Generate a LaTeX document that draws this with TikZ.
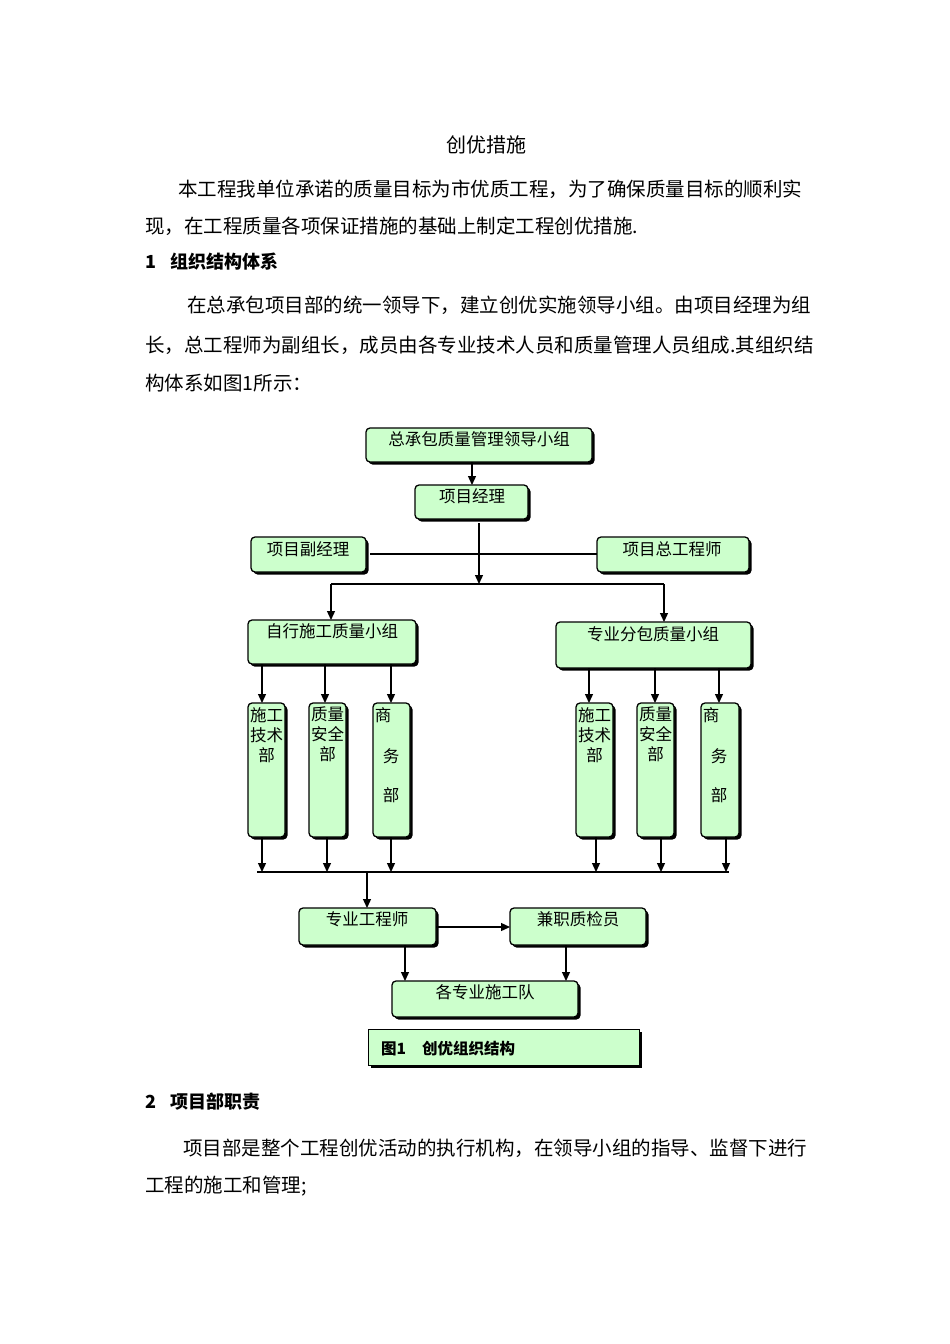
\documentclass[tikz,border=0pt]{standalone}
\usepackage{fontspec}
\setmainfont{Noto Sans CJK SC}
\usetikzlibrary{shadows,arrows.meta}
\definecolor{bx}{HTML}{CCFFCC}
\tikzset{
  box/.style={draw=black,line width=1.3pt,fill=bx,rounded corners=4pt,
    drop shadow={shadow xshift=2.5pt,shadow yshift=-2.5pt,fill=black,opacity=1}},
  capbox/.style={draw=black,line width=1pt,fill=bx,
    drop shadow={shadow xshift=2.5pt,shadow yshift=-2.5pt,fill=black,opacity=1}},
  bt/.style={font=\fontsize{16.5}{18}\selectfont,anchor=north,inner sep=0pt},
  col/.style={bt,align=center,font=\fontsize{16.5}{20}\selectfont},
  body/.style={font=\fontsize{19.5}{22}\selectfont,anchor=west,inner sep=0pt},
  ar/.style={line width=1.3pt,-{Triangle[length=9pt,width=8pt]}},
  ln/.style={line width=1.3pt}
}
\begin{document}
\begin{tikzpicture}[x=1pt,y=-1pt]
\useasboundingbox (0,0) rectangle (950,1344);
% text
\node[font=\fontsize{20}{22}\selectfont,inner sep=0pt] (title) at (486,145) {创优措施};
\node[body] (p1) at (178,189) {本工程我单位承诺的质量目标为市优质工程，为了确保质量目标的顺利实};
\node[body] (p2) at (145,226) {现，在工程质量各项保证措施的基础上制定工程创优措施.};
\node[body,font=\fontsize{18}{20}\selectfont\bfseries] (h1) at (145,262) {1\hspace{14pt}组织结构体系};
\node[body] (p3) at (187,305) {在总承包项目部的统一领导下，建立创优实施领导小组。由项目经理为组};
\node[body] (p4) at (145,345) {长，总工程师为副组长，成员由各专业技术人员和质量管理人员组成.其组织结};
\node[body] (p5) at (145,383) {构体系如图1所示：};
\node[body,font=\fontsize{18}{20}\selectfont\bfseries] (h2) at (145,1102) {2\hspace{14pt}项目部职责};
\node[body] (p6) at (183,1148) {项目部是整个工程创优活动的执行机构，在领导小组的指导、监督下进行};
\node[body] (p7) at (145,1186) {工程的施工和管理;};
% boxes
\path[box] (366,428) rectangle (592,462); \node[bt] (a) at (479,431) {总承包质量管理领导小组};
\path[box] (415,485) rectangle (528,519); \node[bt] (b) at (472,488) {项目经理};
\path[box] (251,537) rectangle (366,572); \node[bt] (c) at (308,541) {项目副经理};
\path[box] (597,537) rectangle (749,572); \node[bt] (d) at (672,541) {项目总工程师};
\path[box] (248,620) rectangle (416,664); \node[bt] (e) at (332,623) {自行施工质量小组};
\path[box] (556,622) rectangle (751,668); \node[bt] (f) at (653,626) {专业分包质量小组};
% columns
\foreach \xa/\xb in {248/285,309/346,373/410,576/613,637/674,701/739}{
  \path[box] (\xa,703) rectangle (\xb,837);
}
\node[col] (l1) at (266.5,707) {施工\\技术\\部};
\node[col] (l2) at (327.5,707) {质量\\安全\\部};
\node[bt] (l3a) at (383,707) {商};
\node[bt] (l3b) at (391,748) {务};
\node[bt] (l3c) at (391,787) {部};
\node[col] (r1) at (594.5,707) {施工\\技术\\部};
\node[col] (r2) at (655.5,707) {质量\\安全\\部};
\node[bt] (r3a) at (711,707) {商};
\node[bt] (r3b) at (719,748) {务};
\node[bt] (r3c) at (719,787) {部};
\path[box] (299,908) rectangle (436,945); \node[bt] (g) at (367,911) {专业工程师};
\path[box] (510,908) rectangle (646,945); \node[bt] (h) at (578,911) {兼职质检员};
\path[box] (392,981) rectangle (578,1017); \node[bt] (i) at (485,984) {各专业施工队};
\path[capbox] (368,1029) rectangle (639,1065);
\node[body,font=\fontsize{15.5}{17}\selectfont\bfseries] (capt) at (381,1049) {图1\hspace{16pt}创优组织结构};
% connectors
\coordinate (j1) at (479,584);
\draw[ar] (472,462) -- (472,485);
\draw[ar] (479,523) -- (j1);
\draw[ln] (370,554) -- (597,554);
\draw[ln] (331,584) -- (664,584);
\draw[ar] (331,584) -- (331,620);
\draw[ar] (664,584) -- (664,622);
\foreach \x/\t in {262/664,325/664,391/664,589/668,655/668,719/668}{
  \draw[ar] (\x,\t) -- (\x,703);
}
\foreach \x in {262,327,391,596,661,726}{
  \draw[ar] (\x,837) -- (\x,872);
}
\draw[ln] (257,872) -- (729,872);
\draw[ar] (367,872) -- (367,908);
\draw[ar] (436,927) -- (510,927);
\draw[ar] (405,945) -- (405,981);
\draw[ar] (566,945) -- (566,981);
\end{tikzpicture}
\end{document}
